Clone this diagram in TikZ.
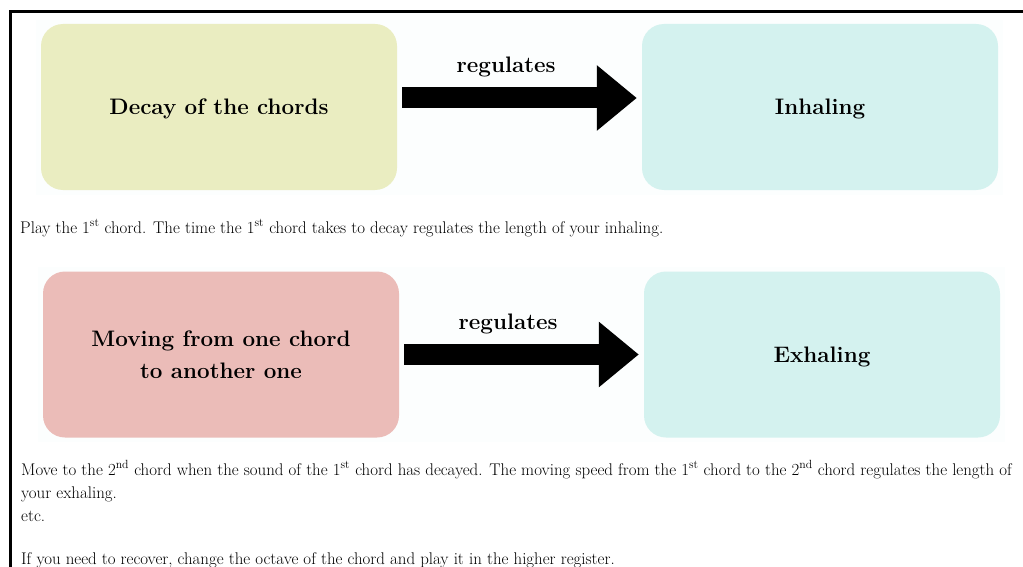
\documentclass[tikz,border=0pt]{standalone}
\usepackage{fontspec}
\usetikzlibrary{arrows.meta}
\definecolor{decaycol}{RGB}{234,237,193}
\definecolor{breathcol}{RGB}{212,242,239}
\definecolor{movecol}{RGB}{235,188,184}
\definecolor{panelcol}{RGB}{252,254,254}
\begin{document}
\begin{tikzpicture}[x=1pt,y=-1pt,
  box/.style={rounded corners=22pt,minimum width=356pt,minimum height=166pt,inner sep=0pt,text depth=-8pt,align=center,font=\fontsize{22.4}{32}\selectfont\bfseries},
  flow/.style={line width=21pt,-{Triangle[length=40pt,width=63pt]},shorten <=5pt,shorten >=5pt},
  lbl/.style={pos=0.445,yshift=31pt,font=\fontsize{22.4}{26}\selectfont\bfseries},
  body/.style={anchor=base west,inner sep=0pt,align=left,font=\fontsize{16.9}{23}\selectfont}]
\useasboundingbox (0,0) rectangle (1023,567);
\fill[white] (0,0) rectangle (1023,567);
\fill[panelcol] (36,20) rectangle (1003,195);
\fill[panelcol] (38,267) rectangle (1005,442);
\draw[line width=3pt] (10,567) |- (1023,12);
\node[box,fill=decaycol] (decay) at (219,107) {Decay of the chords};
\node[box,fill=breathcol] (inhale) at (820,107) {Inhaling};
\draw[flow] ([yshift=9pt]decay.east) -- node[lbl] {regulates} ([yshift=9pt]inhale.west);
\node[body] (play) at (20,233) {Play the 1\textsuperscript{st} chord. The time the 1\textsuperscript{st} chord takes to decay regulates the length of your inhaling.};
\node[box,fill=movecol] (move) at (221,354.5) {Moving from one chord\\to another one};
\node[box,fill=breathcol] (exhale) at (822,354.5) {Exhaling};
\draw[flow] (move) -- node[lbl] {regulates} (exhale);
\node[body] (next) at (21,521) {Move to the 2\textsuperscript{nd} chord when the sound of the 1\textsuperscript{st} chord has decayed. The moving speed from the 1\textsuperscript{st} chord to the 2\textsuperscript{nd} chord regulates the length of\\your exhaling.\\etc.};
\node[body] (recover) at (21,564) {If you need to recover, change the octave of the chord and play it in the higher register.};
\end{tikzpicture}
\end{document}
